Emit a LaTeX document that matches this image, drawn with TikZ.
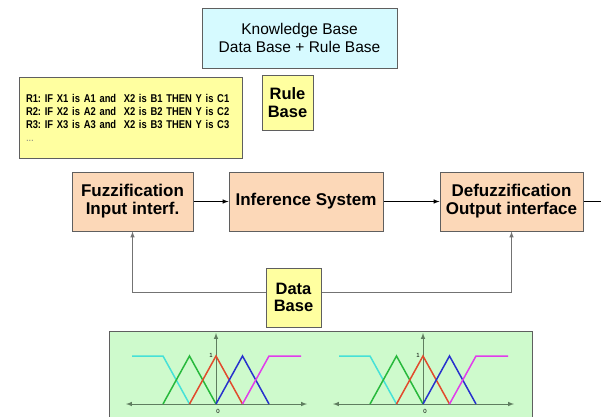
\documentclass[tikz,border=0pt]{standalone}
\usepackage{fontspec}
\setmainfont{Liberation Sans}
\newfontfamily\narrowfont[FakeStretch=0.83, WordSpace=0.7]{Liberation Sans}
\newcommand\rulefont{\narrowfont\bfseries\frenchspacing\fontsize{11.3}{13}\selectfont}

\definecolor{kbfill}{RGB}{214,250,255}
\definecolor{notefill}{RGB}{255,255,160}
\definecolor{blockfill}{RGB}{252,216,184}
\definecolor{plotfill}{RGB}{206,250,204}
\definecolor{edgegray}{RGB}{95,95,95}
\definecolor{linegray}{RGB}{115,115,115}
\definecolor{axisgray}{RGB}{95,125,95}
\definecolor{mfcyan}{RGB}{70,225,215}
\definecolor{mfgreen}{RGB}{40,185,60}
\definecolor{mfred}{RGB}{225,75,45}
\definecolor{mfblue}{RGB}{40,50,205}
\definecolor{mfmagenta}{RGB}{225,60,235}

\begin{document}
\begin{tikzpicture}[x=1pt, y=-1pt, >=latex, line width=1pt,
	box/.style={draw=edgegray, inner sep=0pt, align=center},
	note node/.style={box, fill=notefill, font=\bfseries\fontsize{16.5}{17.5}\selectfont},
	main node/.style={box, fill=blockfill, minimum height=59pt, font=\bfseries\fontsize{17}{18}\selectfont},
	mf/.style={line width=1.5pt}]
	\useasboundingbox (0,0) rectangle (601,416);
	
	\node[box, fill=kbfill, minimum width=195pt, minimum height=60pt,
		font=\fontsize{15.5}{18.5}\selectfont] (1) at (299.5,38) {Knowledge Base\\Data Base + Rule Base};
	\node[box, fill=notefill, minimum width=223pt, minimum height=81pt, text width=209pt, align=left,
		font=\rulefont] (2) at (130.5,117.5)
		{R1: IF X1 is A1 and\ \ X2 is B1 THEN Y is C1\\
		 R2: IF X2 is A2 and\ \ X2 is B2 THEN Y is C2\\
		 R3: IF X3 is A3 and\ \ X2 is B3 THEN Y is C3\\
		 {\mdseries\color{gray}...}};
	\node[note node, minimum width=51pt, minimum height=55pt] (3) at (287.5,102.5) {Rule\\Base};
	
	\node[main node, minimum width=121pt] (4) at (132.5,201.5) {Fuzzification\\Input interf.};
	\node[main node, minimum width=154pt] (5) at (306,201.5) {Inference System};
	\node[main node, minimum width=143pt] (6) at (511.5,201.5) {Defuzzification\\Output interface};
	\coordinate (out) at (601,201.5);
	
	\node[note node, minimum width=55pt, minimum height=59pt] (7) at (293.5,297.5) {Data\\Base};
	\coordinate (fb) at (0,292);
	
	\path[every edge/.style={draw, ->}]
	(4) edge (5)
	(5) edge (6);
	\draw (6) -- (out);
	\draw[->, linegray] (7.west |- fb) -| (4.south);
	\draw[->, linegray] (7.east |- fb) -| (6.south);
	
	% membership functions
	\node[box, fill=plotfill, minimum width=423pt, minimum height=95pt, anchor=north west] (8) at (109,331) {};
	\foreach \cx in {216,423} {
		\begin{scope}[shift={(\cx,404)}]
			\draw[<->, axisgray] (-90,0) -- (91,0);
			\draw[->, axisgray] (0,0) -- (0,-71);
			\node[font=\fontsize{6}{6}\selectfont, inner sep=0pt] at (-5,-49) {1};
			\node[font=\fontsize{6}{6}\selectfont, inner sep=0pt] at (2,7) {0};
			\draw[mf, mfcyan] (-84,-48) -- (-53,-48) -- (-26.5,0);
			\draw[mf, mfgreen] (-53,0) -- (-26.5,-48) -- (0,0);
			\draw[mf, mfred] (-26.5,0) -- (0,-48) -- (26.5,0);
			\draw[mf, mfblue] (0,0) -- (26.5,-48) -- (53,0);
			\draw[mf, mfmagenta] (26.5,0) -- (53,-48) -- (85,-48);
		\end{scope}
	}
\end{tikzpicture}
\end{document}
